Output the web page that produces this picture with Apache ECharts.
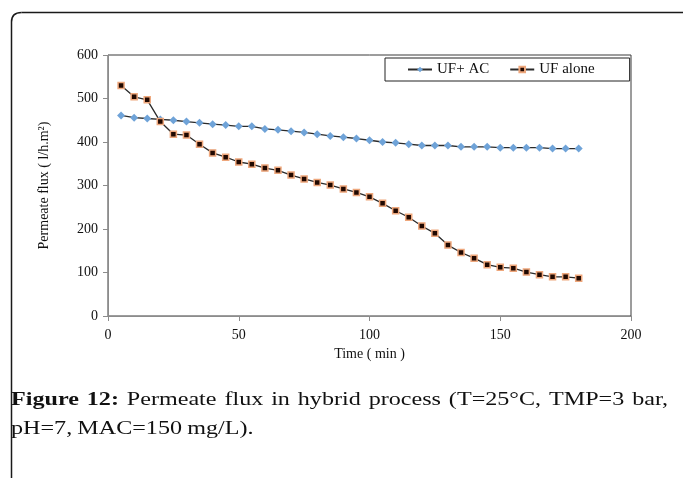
<!DOCTYPE html>
<html>
<head>
<meta charset="utf-8">
<script src="https://cdn.jsdelivr.net/npm/echarts@6/dist/echarts.min.js"></script>
<style>
  html, body { margin: 0; padding: 0; background: #fff; }
  #chart { width: 683px; height: 478px; }
</style>
</head>
<body>
<div id="chart"></div>
<script>
// Filtration time (min)
const timeMin = [5, 10, 15, 20, 25, 30, 35, 40, 45, 50, 55, 60, 65, 70, 75, 80, 85, 90,
                 95, 100, 105, 110, 115, 120, 125, 130, 135, 140, 145, 150, 155, 160, 165, 170, 175, 180];
// Permeate flux (l/h.m²) with activated carbon
const fluxUfAc = [461, 456, 454, 452, 450, 447, 444, 441, 439, 436, 436, 430, 428, 425, 422, 418, 414, 411,
                  408, 404, 400, 398, 395, 392, 392, 392, 389, 389, 389, 387, 387, 387, 387, 385, 385, 385];
// Permeate flux (l/h.m²) for ultrafiltration alone
const fluxUfAlone = [530, 504, 497, 447, 418, 416, 395, 375, 365, 354, 349, 340, 335, 324, 315, 307, 301, 292,
                     284, 274, 259, 242, 227, 207, 190, 163, 146, 133, 118, 112, 110, 101, 95, 90, 90, 87];
const seriesNames = ['UF+ AC', 'UF alone'];
const xTicks = { min: 0, max: 200, interval: 50 };
const yTicks = { min: 0, max: 600, interval: 100 };

const captionLines = [
  [{ t: 'Figure 12:', b: true }, { t: 'Permeate flux in hybrid process (T=25°C, TMP=3 bar,', b: false }],
  [{ t: 'pH=7, MAC=150 mg/L).', b: false }]
];

const SERIF = '"Liberation Serif", "Times New Roman", serif';
const pair = (xs, ys) => xs.map((x, i) => [x, ys[i]]);

// Caption laid out word by word; the first line is justified across the box width.
function captionGraphics() {
  const size = 18, sx = 1.34, left = 11, right = 668;
  const ctx = document.createElement('canvas').getContext('2d');
  const measure = (w, bold) => {
    ctx.font = (bold ? 'bold ' : '') + size + 'px ' + SERIF;
    return ctx.measureText(w).width * sx;
  };
  const out = [];
  const baseY = [400, 429];
  captionLines.forEach((line, li) => {
    const words = [];
    line.forEach(seg => seg.t.split(' ').forEach(w => words.push({ w, b: seg.b })));
    const widths = words.map(o => measure(o.w, o.b));
    const total = widths.reduce((a, b) => a + b, 0);
    const gap = li === 0 ? (right - left - total) / (words.length - 1) : measure(' ', false) * 0.85;
    let x = left;
    words.forEach((o, i) => {
      out.push({
        type: 'text', x: x, y: baseY[li], scaleX: sx, silent: true,
        style: {
          text: o.w, fill: '#111', font: (o.b ? 'bold ' : '') + size + 'px ' + SERIF,
          verticalAlign: 'middle', align: 'left'
        }
      });
      x += widths[i] + gap;
    });
  });
  return out;
}

// Outer frame: left and top rules joined by a rounded corner
const frameStyle = { stroke: '#1a1a1a', lineWidth: 1.5, fill: 'none' };
const frame = [
  { type: 'line', silent: true, shape: { x1: 11.5, y1: 480, x2: 11.5, y2: 22 }, style: frameStyle },
  { type: 'bezierCurve', silent: true,
    shape: { x1: 11.5, y1: 22, cpx1: 11.5, cpy1: 12.5, x2: 21.5, y2: 12.5 }, style: frameStyle },
  { type: 'line', silent: true, shape: { x1: 21.5, y1: 12.5, x2: 690, y2: 12.5 }, style: frameStyle }
];

const chart = echarts.init(document.getElementById('chart'), null, { renderer: 'canvas' });
chart.setOption({
  backgroundColor: '#fff',
  animation: false,
  textStyle: { fontFamily: SERIF },
  grid: {
    left: 108, right: 52, top: 55, bottom: 162,
    show: true, borderColor: '#3a3a3a', borderWidth: 1, backgroundColor: 'transparent'
  },
  legend: {
    left: 385, top: 58,
    padding: [4, 35, 4, 22],
    itemGap: 20, itemWidth: 24, itemHeight: 7,
    borderColor: '#222', borderWidth: 1, backgroundColor: '#fff',
    textStyle: { fontFamily: SERIF, fontSize: 15, color: '#111', lineHeight: 14 },
    data: seriesNames
  },
  xAxis: {
    type: 'value', min: xTicks.min, max: xTicks.max, interval: xTicks.interval,
    name: 'Time ( min )', nameLocation: 'middle', nameGap: 31,
    nameTextStyle: { fontFamily: SERIF, fontSize: 14, color: '#111' },
    axisLine: { show: true, onZero: false, lineStyle: { color: '#8c8c8c', width: 1 } },
    axisTick: { show: true, length: 5, lineStyle: { color: '#8c8c8c' } },
    axisLabel: { fontFamily: SERIF, fontSize: 14, color: '#111', margin: 12 },
    splitLine: { show: false }
  },
  yAxis: {
    type: 'value', min: yTicks.min, max: yTicks.max, interval: yTicks.interval,
    name: 'Permeate flux ( l/h.m\u00B2)', nameLocation: 'middle', nameGap: 57, nameRotate: 90,
    nameTextStyle: { fontFamily: SERIF, fontSize: 14, color: '#111' },
    axisLine: { show: true, lineStyle: { color: '#8c8c8c', width: 1 } },
    axisTick: { show: true, length: 5, lineStyle: { color: '#8c8c8c' } },
    axisLabel: { fontFamily: SERIF, fontSize: 14, color: '#111', margin: 10 },
    splitLine: { show: false }
  },
  series: [
    {
      name: seriesNames[0], type: 'line', data: pair(timeMin, fluxUfAc),
      symbol: 'diamond', symbolSize: 8, showAllSymbol: true,
      lineStyle: { color: '#2a2a2a', width: 1.3 },
      itemStyle: { color: '#6fa3d8', borderColor: '#6fa3d8', borderWidth: 0 }
    },
    {
      name: seriesNames[1], type: 'line', data: pair(timeMin, fluxUfAlone),
      symbol: 'rect', symbolSize: 6, showAllSymbol: true,
      lineStyle: { color: '#2a2a2a', width: 1.3 },
      itemStyle: { color: '#200800', borderColor: '#eea77c', borderWidth: 1.5 }
    }
  ],
  graphic: frame.concat(captionGraphics())
});
</script>
</body>
</html>
